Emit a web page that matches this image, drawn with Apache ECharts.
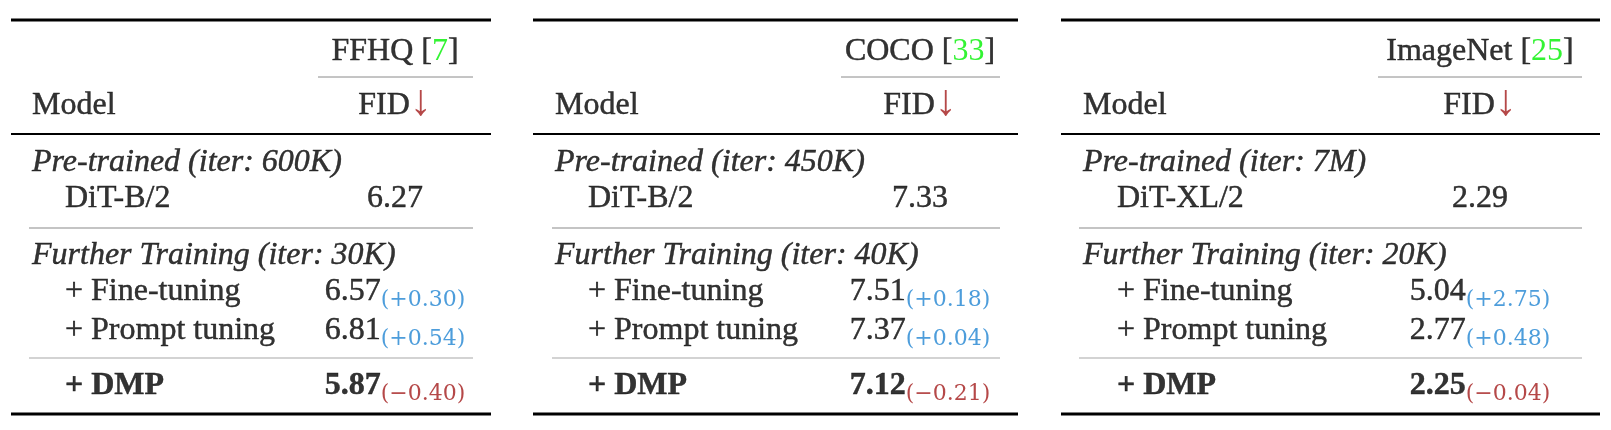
<!DOCTYPE html>
<html>
<head>
<meta charset="utf-8">
<script src="https://cdn.jsdelivr.net/npm/echarts@6/dist/echarts.min.js"></script>
<style>
html,body{margin:0;padding:0;background:#fff;}
#chart{width:1611px;height:430px;}
</style>
</head>
<body>
<div id="chart"></div>
<script>
// ---------------- DATA ----------------
var datasets = ['FFHQ', 'COCO', 'ImageNet'];
var refs = ['7', '33', '25'];
var metricName = 'FID';
var pretrainIters = ['600K', '450K', '7M'];
var furtherIters = ['30K', '40K', '20K'];
var baseModels = ['DiT-B/2', 'DiT-B/2', 'DiT-XL/2'];
var baseFID = ['6.27', '7.33', '2.29'];
var fineTuneFID = ['6.57', '7.51', '5.04'];
var fineTuneDelta = ['+0.30', '+0.18', '+2.75'];
var promptFID = ['6.81', '7.37', '2.77'];
var promptDelta = ['+0.54', '+0.04', '+0.48'];
var dmpFID = ['5.87', '7.12', '2.25'];
var dmpDelta = ['\u22120.40', '\u22120.21', '\u22120.04'];
var methodNames = ['+ Fine-tuning', '+ Prompt tuning', '+ DMP'];

// ---------------- LAYOUT (pixels) ----------------
var panelLeft   = [11, 533, 1061];
var panelRight  = [491, 1018, 1600];
var textLeft    = [32, 555, 1083];
var indentLeft  = [65, 588, 1117];
var valueCenter = [395, 920, 1480];
var cmidLeft    = [318, 841, 1378];
var cmidRight   = [473, 1000, 1582];
var grayLeft    = [29, 552, 1079];
var grayRight   = [473, 1000, 1582];
var baselines   = [61, 115, 172, 208, 265, 301, 340, 395];
var mid = 9.5; // baseline -> middle offset for 32px serif
var ruleY = {top: 20, mid: 134, cmid: 77, gray: 228, light: 358, bottom: 414};

var SERIF = '"Liberation Serif", "Times New Roman", serif';
var SUBF = '"DejaVu Serif", serif';
var BLUE = '#2184d2', RED = '#a31a1a', GREEN = '#00f000';
var TB = {textBorderColor: '#000', textBorderWidth: 0.45};
var NOB = {textBorderWidth: 0, textBorderColor: 'transparent'};

function st(o, extra) { var r = {}; for (var k in o) r[k] = o[k]; if (extra) for (var j in extra) r[j] = extra[j]; return r; }

var baseRich = {
  n: st({fontFamily: SERIF, fontSize: 32, color: '#000', lineHeight: 40}, TB),
  nb: st({fontFamily: SERIF, fontSize: 32, color: '#000', fontWeight: 'bold', lineHeight: 40}, TB),
  g: st({fontFamily: SERIF, fontSize: 32, color: GREEN, lineHeight: 40}, NOB),
  arr: st({fontFamily: SERIF, fontSize: 44, color: RED, lineHeight: 4, verticalAlign: 'bottom'}, NOB),
  sb: st({fontFamily: SUBF, fontSize: 22, color: BLUE, lineHeight: 16, verticalAlign: 'bottom'}, NOB),
  sr: st({fontFamily: SUBF, fontSize: 22, color: RED, lineHeight: 16, verticalAlign: 'bottom'}, NOB)
};

function item(x, row, text, align, style) {
  var lab = st({
    show: true, position: 'inside', align: align, verticalAlign: 'middle',
    formatter: text, rich: baseRich,
    fontFamily: SERIF, fontSize: 32, color: '#000', lineHeight: 40
  }, TB);
  if (style) { for (var k in style) lab[k] = style[k]; }
  return {value: [x, baselines[row] - mid], label: lab};
}

var texts = [];
for (var p = 0; p < 3; p++) {
  texts.push(item(valueCenter[p], 0, '{n|' + datasets[p] + ' [}{g|' + refs[p] + '}{n|]}', 'center'));
  texts.push(item(textLeft[p], 1, 'Model', 'left'));
  texts.push(item(valueCenter[p], 1, '{n|' + metricName + '}{arr|\u2193}', 'center'));
  texts.push(item(textLeft[p], 2, 'Pre-trained (iter: ' + pretrainIters[p] + ')', 'left', {fontStyle: 'italic'}));
  texts.push(item(indentLeft[p], 3, baseModels[p], 'left'));
  texts.push(item(valueCenter[p], 3, baseFID[p], 'center'));
  texts.push(item(textLeft[p], 4, 'Further Training (iter: ' + furtherIters[p] + ')', 'left', {fontStyle: 'italic'}));
  texts.push(item(indentLeft[p], 5, methodNames[0], 'left'));
  texts.push(item(valueCenter[p], 5, '{n|' + fineTuneFID[p] + '}{sb|(+' + fineTuneDelta[p].slice(1) + ')}', 'center'));
  texts.push(item(indentLeft[p], 6, methodNames[1], 'left'));
  texts.push(item(valueCenter[p], 6, '{n|' + promptFID[p] + '}{sb|(+' + promptDelta[p].slice(1) + ')}', 'center'));
  texts.push(item(indentLeft[p], 7, '{nb|' + methodNames[2] + '}', 'left'));
  texts.push(item(valueCenter[p], 7, '{nb|' + dmpFID[p] + '}{sr|(' + dmpDelta[p] + ')}', 'center'));
}

// rules: [x1, x2, y, kind]
var ruleKinds = {
  heavy: {w: 3, c: '#000'},
  medium: {w: 2, c: '#000'},
  cmid: {w: 1, c: '#8a8a8a'},
  gray: {w: 1.2, c: '#8a8a8a'},
  light: {w: 1.6, c: '#c4c4c4'}
};
var rules = [];
for (var q = 0; q < 3; q++) {
  rules.push([panelLeft[q], panelRight[q], ruleY.top, 'heavy']);
  rules.push([cmidLeft[q], cmidRight[q], ruleY.cmid, 'cmid']);
  rules.push([panelLeft[q], panelRight[q], ruleY.mid, 'medium']);
  rules.push([grayLeft[q], grayRight[q], ruleY.gray, 'gray']);
  rules.push([grayLeft[q], grayRight[q], ruleY.light, 'light']);
  rules.push([panelLeft[q], panelRight[q], ruleY.bottom, 'heavy']);
}

var chart = echarts.init(document.getElementById('chart'), null, {renderer: 'canvas'});
chart.setOption({
  animation: false,
  backgroundColor: '#fff',
  grid: {left: 0, right: 0, top: 0, bottom: 0},
  xAxis: {type: 'value', min: 0, max: 1611, show: false},
  yAxis: {type: 'value', min: 0, max: 430, inverse: true, show: false},
  series: [
    {
      type: 'custom',
      renderItem: function (params, api) {
        var r = rules[params.dataIndex];
        var k = ruleKinds[r[3]];
        var a = api.coord([r[0], r[2]]);
        var b = api.coord([r[1], r[2]]);
        return {
          type: 'line',
          shape: {x1: a[0], y1: a[1], x2: b[0], y2: b[1]},
          style: {stroke: k.c, lineWidth: k.w}
        };
      },
      data: rules.map(function (r) { return [r[0], r[1], r[2]]; }),
      silent: true
    },
    {
      type: 'scatter',
      symbol: 'circle',
      symbolSize: 1,
      itemStyle: {color: 'rgba(0,0,0,0)'},
      data: texts,
      silent: true
    }
  ]
});
</script>
</body>
</html>
